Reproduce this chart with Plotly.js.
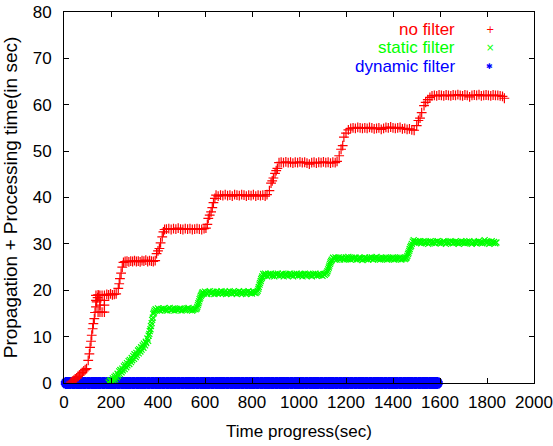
<!DOCTYPE html>
<html>
<head>
<meta charset="utf-8">
<script src="https://cdn.plot.ly/plotly-3.0.1.min.js"></script>
<style>html,body{margin:0;padding:0;background:#fff;}#chart{width:553px;height:446px;}</style>
</head>
<body>
<div id="chart"></div>
<script>
// ---- data ----
const seriesNames = ["no filter", "static filter", "dynamic filter"];

const noFilterPoints = [
  [30,0.2],[36,0.4],[42,0.6],[48,0.9],[54,1.1],[60,1.4],[66,1.7],[72,2.0],[78,2.3],[84,2.6],[90,2.9],[96,3.1],
  [103,4.9],[108,6.3],[111,7.7],[115,9.0],[118,10.3],[122,11.7],[125,12.8],[129,13.9],[132,15.2],[136,16.4],[139,17.5],[143,18.4],[148,18.9],
  [136,17.8],[136,18.9],[145,19.0],[145,15.3],[153,15.3],[153,16.8],[153,17.8],[153,18.9],[162,18.9],[162,15.3],[172,15.3],[172,16.8],[172,17.8],[172,18.9],
  [182,19.1],[190,19.0],[198,19.2],[206,19.0],[214,19.1],[222,19.2],
  [231,20.4],[235,21.4],[238,22.5],[243,23.7],[248,25.0],[253,26.0],
  [260,26.2],[268,26.3],[276,26.1],[284,26.3],[292,26.2],[300,26.4],[308,26.2],[316,26.3],[324,26.1],[332,26.4],[340,26.3],[348,26.5],[356,26.2],[364,26.4],[372,26.3],[380,26.2],[388,26.4],
  [394,27.9],[400,28.5],[406,29.0],[411,30.2],[418,31.5],[423,32.6],[428,33.1],
  [436,33.2],[446,33.3],[456,33.1],[466,33.3],[476,33.2],[486,33.4],[496,33.2],[506,33.1],[516,33.3],[526,33.2],[536,33.3],[546,33.1],[556,33.2],[566,33.3],[576,33.2],[586,33.1],[596,33.3],[604,33.4],
  [610,34.2],[614,35.5],[620,36.2],[626,36.9],[631,37.8],[636,38.9],[642,39.8],[647,40.5],
  [656,40.3],[666,40.5],[676,40.4],[686,40.6],[696,40.4],[706,40.5],[716,40.3],[726,40.6],[736,40.5],[746,40.4],[756,40.6],[766,40.5],[776,40.3],[786,40.5],[796,40.4],[806,40.6],[816,40.3],[826,40.5],[836,40.4],[846,40.5],[856,40.3],[864,40.6],
  [874,41.5],[881,43.1],[886,43.6],[891,44.2],[898,45.2],[903,45.8],[908,46.3],[915,47.5],
  [924,47.6],[934,47.5],[944,47.7],[954,47.5],[964,47.6],[974,47.4],[984,47.6],[994,47.5],[1004,47.7],[1014,47.5],[1024,47.6],[1034,47.4],[1044,47.2],[1054,47.5],[1064,47.6],[1074,47.4],[1084,47.6],[1094,47.5],[1104,47.7],[1114,47.5],[1124,47.6],[1134,47.4],[1144,47.6],[1154,47.5],[1162,47.8],
  [1171,49.0],[1179,50.4],[1186,51.2],[1191,53.0],[1200,53.9],[1210,54.6],
  [1220,54.9],[1230,55.0],[1240,54.9],[1250,55.1],[1260,55.0],[1270,54.9],[1280,55.0],[1290,54.9],[1300,55.1],[1310,55.0],[1320,54.8],[1330,54.9],[1340,55.0],[1350,54.7],[1360,54.9],[1370,55.1],[1380,55.0],[1390,55.2],[1400,55.0],[1410,54.9],[1420,55.0],[1430,55.1],[1440,54.8],[1450,54.9],[1460,54.7],[1470,54.8],[1480,54.6],[1490,54.5],
  [1501,55.5],[1508,56.6],[1515,57.1],[1522,58.3],[1532,59.8],[1539,60.5],[1548,61.1],[1557,61.6],
  [1566,61.9],[1576,62.0],[1586,61.9],[1596,62.1],[1606,62.0],[1616,61.9],[1626,62.1],[1636,62.0],[1646,61.9],[1656,62.1],[1666,62.0],[1676,62.2],[1686,62.0],[1696,61.9],[1706,62.1],[1716,62.0],[1726,61.7],[1736,62.0],[1746,62.1],[1756,62.0],[1766,62.2],[1776,61.9],[1786,62.0],[1796,62.1],[1806,62.0],[1816,61.9],[1826,62.1],[1836,62.0],[1846,62.0],[1856,61.9],[1866,61.8],[1874,61.4]
];

const staticFilterPoints = [
  [190,0.1],[195,0.5],[198,-0.1],[200,0.6],[205,0.3],[208,1.0],[210,0.6],[215,1.3],[218,0.8],[220,1.6],[225,1.2],[228,2.0],[230,1.6],[235,2.5],[238,1.9],[240,2.8],[245,2.3],[248,3.1],[250,2.7],[255,3.6],[258,3.0],[260,3.9],[265,3.4],[268,4.3],[270,3.8],[275,4.7],[278,4.1],[280,5.0],[285,4.5],[288,5.4],[290,4.9],[295,5.8],[298,5.2],[300,6.2],[305,5.6],[308,6.5],[310,6.0],[315,7.0],[318,6.4],[320,7.3],[325,6.8],[328,7.7],[330,7.2],[335,8.1],[338,7.6],[340,8.5],[345,8.1],[348,8.9],[350,8.6],[355,9.6],[358,9.1],[360,10.2],[363,10.6],[365,11.2],[368,11.6],[370,12.3],[373,12.9],[375,13.6],[378,14.1],[380,14.9],[383,15.2],[385,15.6],
  [390,15.9],[395,15.6],[400,16.1],[405,15.7],[410,15.6],[415,16.0],[420,15.8],[425,16.1],[430,15.7],[435,15.9],[440,15.6],[445,16.0],[450,16.2],[455,15.7],[460,15.8],[465,16.1],[470,15.6],[475,15.9],[480,16.0],[485,15.7],[490,15.9],[495,16.1],[500,15.6],[505,15.8],[510,16.0],[515,15.7],[520,15.9],[525,16.1],[530,16.2],[535,15.7],[540,15.9],[545,15.6],[550,15.8],[555,16.0],[560,15.9],[565,16.1],[567,16.4],
  [570,16.8],[572,17.2],[575,17.6],[577,18.1],[580,18.4],[582,18.8],[585,19.0],[587,19.3],
  [590,19.6],[595,19.3],[600,19.7],[605,19.4],[610,19.2],[615,19.6],[620,19.8],[625,19.3],[630,19.5],[635,19.7],[640,19.2],[645,19.5],[650,19.7],[655,19.3],[660,19.6],[665,19.4],[670,19.8],[675,19.3],[680,19.5],[685,19.7],[690,19.2],[695,19.6],[700,19.4],[705,19.8],[710,19.5],[715,19.3],[720,19.7],[725,19.4],[730,19.6],[735,19.2],[740,19.5],[745,19.8],[750,19.4],[755,19.6],[760,19.3],[765,19.7],[770,19.5],[775,19.2],[780,19.6],[785,19.8],[790,19.4],[795,19.6],[800,19.3],[805,19.7],[810,19.5],[815,19.4],[820,19.6],[824,19.9],
  [827,20.3],[829,20.7],[832,21.2],[834,21.6],[837,22.0],[839,22.4],[842,22.7],[844,23.0],
  [848,23.5],[852,23.1],[856,23.6],[860,23.3],[865,23.0],[870,23.5],[875,23.2],[880,23.6],[885,23.1],[890,23.4],[895,23.0],[900,23.5],[905,23.3],[910,23.6],[915,23.1],[920,23.4],[925,23.2],[930,23.6],[935,23.0],[940,23.3],[945,23.5],[950,23.1],[955,23.4],[960,23.6],[965,23.2],[970,23.4],[975,23.0],[980,23.5],[985,23.3],[990,23.6],[995,23.1],[1000,23.4],[1005,23.2],[1010,23.5],[1015,23.0],[1020,23.4],[1025,23.6],[1030,23.1],[1035,23.3],[1040,23.5],[1045,23.2],[1050,23.4],[1055,23.0],[1060,23.5],[1065,23.3],[1070,23.6],[1075,23.1],[1080,23.4],[1085,23.2],[1090,23.5],[1095,23.3],[1100,23.1],[1105,23.5],[1110,23.3],[1115,23.6],[1118,23.8],
  [1121,24.1],[1124,24.5],[1127,24.9],[1129,25.3],[1132,25.7],[1134,26.0],[1137,26.3],[1140,26.6],
  [1145,27.0],[1150,26.7],[1155,27.1],[1160,26.6],[1165,26.9],[1170,27.1],[1175,26.6],[1180,26.9],[1185,27.0],[1190,26.6],[1195,26.8],[1200,27.1],[1205,26.7],[1210,27.2],[1215,26.8],[1220,26.6],[1225,27.0],[1230,26.7],[1235,26.9],[1240,27.1],[1245,26.6],[1250,26.8],[1255,27.0],[1260,26.7],[1265,26.9],[1270,26.5],[1275,26.8],[1280,27.1],[1285,26.7],[1290,26.9],[1295,26.6],[1300,27.0],[1305,26.8],[1310,27.1],[1315,26.6],[1320,26.9],[1325,27.0],[1330,27.2],[1335,26.7],[1340,26.9],[1345,26.6],[1350,26.8],[1355,27.0],[1360,26.7],[1365,26.9],[1370,27.1],[1375,26.6],[1380,26.8],[1385,27.0],[1390,26.7],[1395,26.9],[1400,27.1],[1405,26.6],[1410,26.8],[1415,27.0],[1420,26.7],[1425,26.9],[1430,27.1],[1435,26.6],[1440,26.8],[1445,27.0],[1450,26.7],[1455,26.9],[1458,27.1],
  [1461,27.4],[1464,27.8],[1466,28.1],[1469,28.5],[1471,28.9],[1474,29.3],[1477,29.6],[1480,30.0],
  [1484,30.5],[1488,30.8],[1492,30.3],[1496,30.6],[1500,30.2],[1505,30.5],[1510,30.3],[1515,30.6],[1520,30.1],[1525,30.4],[1530,30.6],[1535,30.2],[1540,30.5],[1545,30.3],[1550,30.0],[1555,30.4],[1560,30.6],[1565,30.2],[1570,30.5],[1575,30.3],[1580,30.1],[1585,30.5],[1590,30.6],[1595,30.2],[1600,30.4],[1605,30.1],[1610,30.3],[1615,30.6],[1620,30.4],[1625,30.0],[1630,30.3],[1635,30.5],[1640,30.2],[1645,30.6],[1650,30.4],[1655,30.1],[1660,30.3],[1665,30.5],[1670,30.2],[1675,30.4],[1680,30.0],[1685,30.3],[1690,30.6],[1695,30.2],[1700,30.4],[1705,30.1],[1710,30.3],[1715,30.5],[1720,30.2],[1725,30.6],[1730,30.3],[1735,30.0],[1740,30.2],[1745,30.5],[1750,30.3],[1755,30.1],[1760,30.4],[1765,30.6],[1770,30.2],[1775,30.4],[1780,30.1],[1785,30.3],[1790,30.8],[1795,30.4],[1800,30.2],[1805,30.5],[1810,30.0],[1815,30.3],[1820,30.6],[1825,30.2],[1830,30.4],[1835,30.1],[1840,30.3]
];

const dynamicFilterPoints = [
  [12,0],[24,0],[40,0],[56,0],[72,0],[88,0],[104,0],[120,0],[136,0],[152,0],[168,0],[184,0],[200,0],[216,0],[232,0],[248,0],[264,0],[280,0],[296,0],[312,0],
  [328,0],[344,0],[360,0],[376,0],[392,0],[408,0],[424,0],[440,0],[456,0],[472,0],[488,0],[504,0],[520,0],[536,0],[552,0],[568,0],[584,0],[600,0],[616,0],[632,0],
  [648,0],[664,0],[680,0],[696,0],[712,0],[728,0],[744,0],[760,0],[776,0],[792,0],[808,0],[824,0],[840,0],[856,0],[872,0],[888,0],[904,0],[920,0],[936,0],[952,0],
  [968,0],[984,0],[1000,0],[1016,0],[1032,0],[1048,0],[1064,0],[1080,0],[1096,0],[1112,0],[1128,0],[1144,0],[1160,0],[1176,0],[1192,0],[1208,0],[1224,0],[1240,0],[1256,0],[1272,0],
  [1288,0],[1304,0],[1320,0],[1336,0],[1352,0],[1368,0],[1384,0],[1400,0],[1416,0],[1432,0],[1448,0],[1464,0],[1480,0],[1496,0],[1512,0],[1528,0],[1544,0],[1560,0],[1574,0],[1586,0]
];

const xTickValues = [0,200,400,600,800,1000,1200,1400,1600,1800,2000];
const yTickValues = [0,10,20,30,40,50,60,70,80];
const xTitle = "Time progress(sec)";
const yTitle = "Propagation + Processing time(in sec)";

// ---- drawing ----
const colors = ["#ff0000", "#00ff00", "#0000ff"];
const FONT = "Liberation Sans, Arial, Helvetica, sans-serif";
const FS = 17;

function xs(p){ return p.map(d => d[0]); }
function ys(p){ return p.map(d => d[1]); }

const traces = [
  {x: xs(dynamicFilterPoints), y: ys(dynamicFilterPoints), name: seriesNames[2], mode: "markers", type: "scatter", cliponaxis: false,
   marker: {symbol: "asterisk-open", size: 10, color: colors[2], line: {color: colors[2], width: 4}}},
  {x: xs(noFilterPoints), y: ys(noFilterPoints), name: seriesNames[0], mode: "markers", type: "scatter",
   marker: {symbol: "cross-thin-open", size: 7, color: colors[0], line: {color: colors[0], width: 1.2}}},
  {x: xs(staticFilterPoints), y: ys(staticFilterPoints), name: seriesNames[1], mode: "markers", type: "scatter",
   marker: {symbol: "x-thin-open", size: 6, color: colors[1], line: {color: colors[1], width: 1.2}}}
];

// legend drawn gnuplot-style: right-aligned text with the symbol to its right
const legendRows = [
  {text: seriesNames[0], glyph: "+", color: colors[0], y: 0.954},
  {text: seriesNames[1], glyph: "×", color: colors[1], y: 0.903},
  {text: seriesNames[2], glyph: "✱", color: colors[2], y: 0.852}
];
const annotations = [];
legendRows.forEach(r => {
  annotations.push({xref: "paper", yref: "paper", x: 0.836, y: r.y, xanchor: "right", yanchor: "middle",
    text: r.text, showarrow: false, font: {family: FONT, size: FS, color: r.color}});
  annotations.push({xref: "paper", yref: "paper", x: 0.906, y: r.y, xanchor: "center", yanchor: "middle",
    text: r.glyph, showarrow: false, font: {family: "DejaVu Sans", size: r.glyph === "✱" ? 8 : 10, color: r.color}});
});

const layout = {
  width: 553, height: 446,
  margin: {l: 64, r: 19, t: 12, b: 63, pad: 0},
  paper_bgcolor: "#ffffff", plot_bgcolor: "#ffffff",
  showlegend: false,
  font: {family: FONT, size: FS, color: "#000"},
  xaxis: {
    range: [0, 2000], tickvals: xTickValues, ticktext: xTickValues.map(String),
    ticks: "inside", ticklen: 5, tickwidth: 1, tickcolor: "#000",
    mirror: "allticks", showline: true, linecolor: "#000", linewidth: 1,
    showgrid: false, zeroline: false, automargin: false,
    tickfont: {family: FONT, size: FS, color: "#000"},
    ticklabelstandoff: 4,
    title: {text: xTitle, font: {family: FONT, size: FS, color: "#000"}, standoff: 13}
  },
  yaxis: {
    range: [0, 80], tickvals: yTickValues, ticktext: yTickValues.map(String),
    ticks: "inside", ticklen: 5, tickwidth: 1, tickcolor: "#000",
    mirror: "allticks", showline: true, linecolor: "#000", linewidth: 1,
    showgrid: false, zeroline: false, automargin: false,
    tickfont: {family: FONT, size: FS, color: "#000"},
    ticklabelstandoff: 8,
    title: {text: yTitle, font: {family: FONT, size: 19, color: "#000"}, standoff: 10}
  },
  annotations: annotations
};

Plotly.newPlot("chart", traces, layout, {displayModeBar: false, staticPlot: true});
</script>
</body>
</html>
